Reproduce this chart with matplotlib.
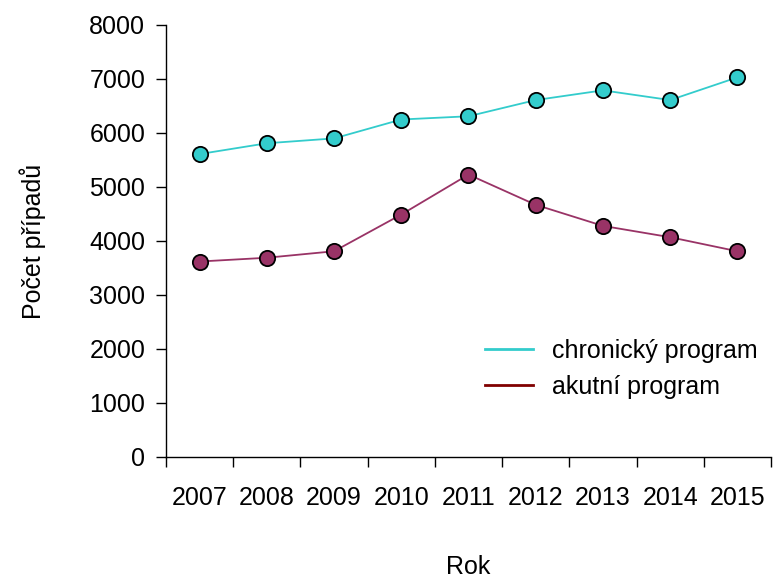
import matplotlib
matplotlib.use("Agg")
import matplotlib.pyplot as plt
from matplotlib.lines import Line2D
import numpy as np

years = ["2007", "2008", "2009", "2010", "2011", "2012", "2013", "2014", "2015"]
chronic = [5610, 5810, 5900, 6250, 6310, 6610, 6790, 6610, 7030]
acute = [3620, 3690, 3810, 4490, 5230, 4670, 4280, 4070, 3810]

plt.rcParams['font.family'] = ['Liberation Sans', 'DejaVu Sans']
FS = 18

fig = plt.figure(figsize=(7.76, 5.78), dpi=100)
ax = fig.add_axes([166/776, (578-457)/578, (771-166)/776, (457-25)/578])

x = np.arange(len(years)) + 0.5
ax.plot(x, chronic, color='#33CCCC', lw=1.3, marker='o', ms=11,
        mfc='#33CCCC', mec='black', mew=1.3, zorder=3, clip_on=False)
ax.plot(x, acute, color='#993366', lw=1.3, marker='o', ms=11,
        mfc='#993366', mec='black', mew=1.3, zorder=3, clip_on=False)

ax.set_xlim(0, len(years))
ax.set_ylim(0, 8000)
ax.set_yticks(np.arange(0, 8001, 1000))
ax.set_xticks(np.arange(0, len(years) + 1))
ax.set_xticklabels([])
ax.set_xticks(x, minor=True)
ax.set_xticklabels(years, minor=True)
ax.tick_params(axis='x', which='minor', length=0, pad=21, labelsize=FS)
ax.tick_params(axis='x', which='major', length=7, width=1, direction='out')
ax.tick_params(axis='y', length=7, width=1, direction='out', labelsize=FS, pad=8)

for s in ['top', 'right']:
    ax.spines[s].set_visible(False)
for s in ['left', 'bottom']:
    ax.spines[s].set_linewidth(1)

ax.set_xlabel('Rok', fontsize=FS, labelpad=32)
ax.set_ylabel('Počet případů', fontsize=FS, labelpad=31)

handles = [Line2D([0], [0], color='#33CCCC', lw=2),
           Line2D([0], [0], color='#800000', lw=2)]
fig.legend(handles, ['chronický program', 'akutní program'],
           loc='upper left', bbox_to_anchor=(462/776, 1 - 316/578),
           frameon=False, fontsize=FS, handlelength=1.95, handletextpad=0.75,
           labelspacing=0.5)

fig.savefig('out.png', dpi=100)
